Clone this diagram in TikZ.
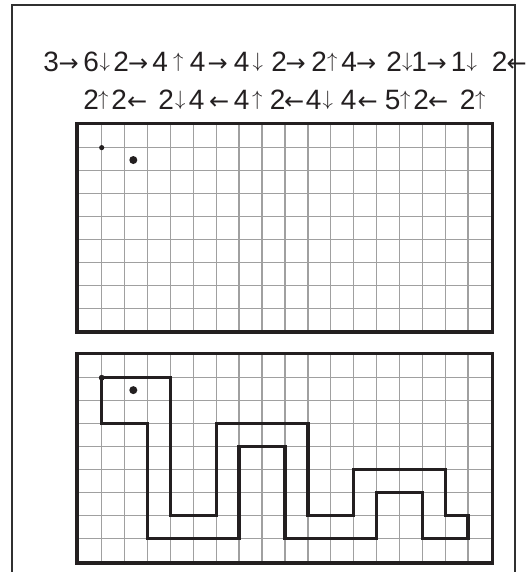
\documentclass[tikz,border=0pt]{standalone}
\usepackage{fontspec}
\setmainfont{Liberation Sans}
\newfontfamily\arrfont{DejaVu Sans}
\definecolor{ink}{HTML}{231F20}
\definecolor{gridgray}{HTML}{A0A0A0}
\definecolor{outerline}{HTML}{303030}
% place a glyph centred at an absolute x offset inside a line
\newcommand\gat[2]{\rlap{\hspace*{#1pt}\makebox[0pt][c]{#2}}}
\newcommand\gar[2]{\gat{#1}{{\arrfont\fontsize{24}{30}\selectfont #2}}}
\newcommand\gav[2]{\gat{#1}{{\fontsize{20.74}{25}\selectfont\raisebox{3.6pt}{$#2$}}}}
\tikzset{
  linetxt/.style={font=\fontsize{28}{30}\selectfont, inner sep=0pt, anchor=base west, text=ink},
  gline/.style={draw=gridgray, line width=1.4pt},
  gframe/.style={draw=ink, line width=3.5pt},
  snake/.style={draw=ink, line width=3.4pt, line join=miter},
  outerframe/.style={draw=outerline, line width=2.4pt},
}
\begin{document}
\begin{tikzpicture}[x=1pt, y=-1pt]
\useasboundingbox (0,0) rectangle (531,572);
\clip (0,0) rectangle (531,572);
% outer frame
\draw[outerframe] (11.7,580) -- (11.7,5) -- (515,5) -- (515,580);
% line 1
\node[linetxt] (line1) at (0,71.5) {\gat{51}{3}\gar{68.5}{→}\gat{91}{6}\gav{104.5}{\downarrow}\gat{121}{2}\gar{138}{→}\gat{160}{4}\gav{178}{\uparrow}\gat{197.5}{4}\gar{217.5}{→}\gat{241.5}{4}\gav{257.5}{\downarrow}\gat{279}{2}\gar{295.5}{→}\gat{319}{2}\gav{332}{\uparrow}\gat{349}{4}\gar{366}{→}\gat{394}{2}\gav{407}{\downarrow}\gat{419}{1}\gar{436.5}{→}\gat{458.5}{1}\gav{471.6}{\downarrow}\gat{499.5}{2}\gar{516.5}{←}\hspace*{525pt}};
% line 2
\node[linetxt] (line2) at (0,109.5) {\gat{91}{2}\gav{103}{\uparrow}\gat{119}{2}\gar{137}{←}\gat{166}{2}\gav{180}{\downarrow}\gat{196.5}{4}\gar{219}{←}\gat{241.5}{4}\gav{257}{\uparrow}\gat{277.5}{2}\gar{294}{←}\gat{313.5}{4}\gav{327.5}{\downarrow}\gat{348.5}{4}\gar{367.5}{←}\gat{392.5}{5}\gav{405}{\uparrow}\gat{421}{2}\gar{438}{←}\gat{467.5}{2}\gav{480}{\uparrow}\hspace*{490pt}};
% top grid
\begin{scope}[xshift=78.8pt, yshift=-124.7pt, x=22.9pt, y=-22.94pt]
  \foreach \i in {1,...,17} \draw[gline] (\i,0) -- (\i,9);
  \foreach \j in {1,...,8} \draw[gline] (0,\j) -- (18,\j);
  \draw[gframe] (-0.075,-0.06) rectangle (18.07,9.03);
  \fill[ink] (1,1) circle (2.6pt);
  \fill[ink] (2.38,1.54) circle (4pt);
\end{scope}
% bottom grid
\begin{scope}[xshift=78.8pt, yshift=-354.8pt, x=22.9pt, y=-22.94pt]
  \foreach \i in {1,...,17} \draw[gline] (\i,0) -- (\i,9);
  \foreach \j in {1,...,8} \draw[gline] (0,\j) -- (18,\j);
  \draw[gframe] (-0.075,-0.05) rectangle (18.07,9.07);
  \draw[snake] (1,1) -- (4,1) -- (4,7) -- (6,7) -- (6,3) -- (10,3) -- (10,7) -- (12,7) -- (12,5) -- (16,5) -- (16,7) -- (17,7) -- (17,8) -- (15,8) -- (15,6) -- (13,6) -- (13,8) -- (9,8) -- (9,4) -- (7,4) -- (7,8) -- (3,8) -- (3,3) -- (1,3) -- cycle;
  \fill[ink] (1,1) circle (2.9pt);
  \fill[ink] (2.38,1.54) circle (4pt);
\end{scope}
\end{tikzpicture}
\end{document}
